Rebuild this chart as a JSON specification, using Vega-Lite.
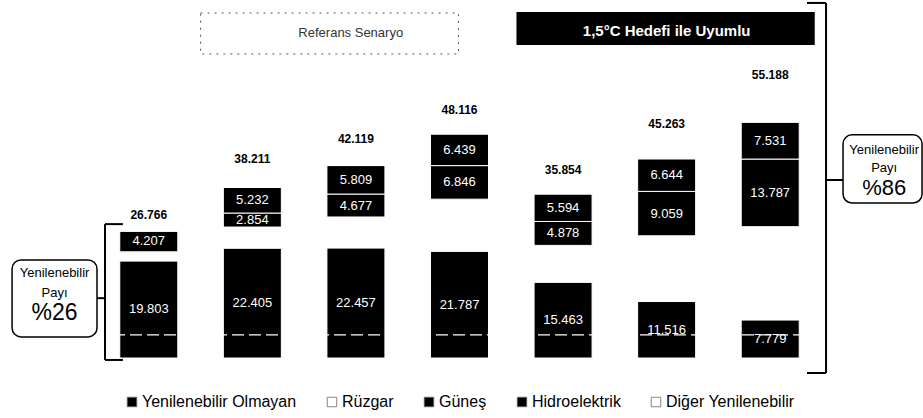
{
  "$schema": "https://vega.github.io/schema/vega-lite/v6.json",
  "width": 725,
  "height": 358,
  "autosize": {"type": "none"},
  "padding": {"left": 97, "right": 101, "top": 0, "bottom": 60},
  "background": "white",
  "config": {"view": {"stroke": null}, "axis": {"grid": false}, "font": "Liberation Sans"},
  "datasets": {
    "ranks": [
      {"src": "Yenilenebilir Olmayan", "rank": 1},
      {"src": "Rüzgar", "rank": 2},
      {"src": "Güneş", "rank": 3},
      {"src": "Hidroelektrik", "rank": 4},
      {"src": "Diğer Yenilenebilir", "rank": 5}
    ],
    "energy": [
      {"bar": "2019", "src": "Yenilenebilir Olmayan", "v": 19.803},
      {"bar": "2019", "src": "Rüzgar", "v": 1.75},
      {"bar": "2019", "src": "Güneş", "v": 0.1},
      {"bar": "2019", "src": "Hidroelektrik", "v": 4.207},
      {"bar": "2019", "src": "Diğer Yenilenebilir", "v": 0.906},
      {"bar": "2030", "src": "Yenilenebilir Olmayan", "v": 22.405},
      {"bar": "2030", "src": "Rüzgar", "v": 4.3},
      {"bar": "2030", "src": "Güneş", "v": 2.854},
      {"bar": "2030", "src": "Hidroelektrik", "v": 5.232},
      {"bar": "2030", "src": "Diğer Yenilenebilir", "v": 3.42},
      {"bar": "2040", "src": "Yenilenebilir Olmayan", "v": 22.457},
      {"bar": "2040", "src": "Rüzgar", "v": 6.3},
      {"bar": "2040", "src": "Güneş", "v": 4.677},
      {"bar": "2040", "src": "Hidroelektrik", "v": 5.809},
      {"bar": "2040", "src": "Diğer Yenilenebilir", "v": 2.876},
      {"bar": "2050", "src": "Yenilenebilir Olmayan", "v": 21.787},
      {"bar": "2050", "src": "Rüzgar", "v": 10.6},
      {"bar": "2050", "src": "Güneş", "v": 6.846},
      {"bar": "2050", "src": "Hidroelektrik", "v": 6.439},
      {"bar": "2050", "src": "Diğer Yenilenebilir", "v": 2.444},
      {"bar": "2030b", "src": "Yenilenebilir Olmayan", "v": 15.463},
      {"bar": "2030b", "src": "Rüzgar", "v": 7.5},
      {"bar": "2030b", "src": "Güneş", "v": 4.878},
      {"bar": "2030b", "src": "Hidroelektrik", "v": 5.594},
      {"bar": "2030b", "src": "Diğer Yenilenebilir", "v": 2.419},
      {"bar": "2040b", "src": "Yenilenebilir Olmayan", "v": 11.516},
      {"bar": "2040b", "src": "Rüzgar", "v": 13.4},
      {"bar": "2040b", "src": "Güneş", "v": 9.059},
      {"bar": "2040b", "src": "Hidroelektrik", "v": 6.644},
      {"bar": "2040b", "src": "Diğer Yenilenebilir", "v": 4.644},
      {"bar": "2050b", "src": "Yenilenebilir Olmayan", "v": 7.779},
      {"bar": "2050b", "src": "Rüzgar", "v": 19.0},
      {"bar": "2050b", "src": "Güneş", "v": 13.787},
      {"bar": "2050b", "src": "Hidroelektrik", "v": 7.531},
      {"bar": "2050b", "src": "Diğer Yenilenebilir", "v": 7.091}
    ]
  },
  "layer": [
    {
      "data": {"name": "energy"},
      "transform": [{"lookup": "src", "from": {"data": {"name": "ranks"}, "key": "src", "fields": ["rank"]}}],
      "mark": {"type": "bar", "width": {"band": 0.56}, "stroke": "white", "strokeWidth": 1},
      "encoding": {
        "x": {
          "field": "bar", "type": "nominal", "sort": null,
          "scale": {"domain": ["2019", "2030", "2040", "2050", "2030b", "2040b", "2050b"], "paddingInner": 0, "paddingOuter": 0},
          "axis": {"title": null, "labelExpr": "slice(datum.label, 0, 4)", "labelAngle": 0, "labelFontWeight": "bold", "labelFontSize": 13, "labelColor": "#000", "labelPadding": 10, "ticks": false, "domainDash": [2, 2], "domainColor": "#777"}
        },
        "y": {"field": "v", "type": "quantitative", "stack": "zero", "scale": {"domain": [0, 73], "nice": false}, "axis": null},
        "order": {"field": "rank", "type": "quantitative", "sort": "ascending"},
        "color": {
          "field": "src", "type": "nominal",
          "sort": ["Yenilenebilir Olmayan", "Rüzgar", "Güneş", "Hidroelektrik", "Diğer Yenilenebilir"],
          "scale": {"domain": ["Yenilenebilir Olmayan", "Rüzgar", "Güneş", "Hidroelektrik", "Diğer Yenilenebilir"], "range": ["#000000", "#ffffff", "#000000", "#000000", "#ffffff"]},
          "legend": {"orient": "none", "legendX": 27, "legendY": 394, "direction": "horizontal", "title": null, "labelFontSize": 16, "labelColor": "#000", "symbolType": "square", "symbolSize": 90, "columnPadding": 27, "labelOffset": 2, "symbolStrokeColor": "#666", "symbolStrokeWidth": 0.8}
        }
      }
    },
    {
      "data": {"values": [{"y": 4.7}]},
      "mark": {"type": "rule", "color": "white", "strokeDash": [12, 5], "strokeWidth": 1.2},
      "encoding": {"y": {"field": "y", "type": "quantitative", "axis": null}}
    },
    {
      "data": {"name": "energy"},
      "transform": [{"lookup": "src", "from": {"data": {"name": "ranks"}, "key": "src", "fields": ["rank"]}}],
      "mark": {"type": "text", "fontSize": 13, "baseline": "middle", "color": "white"},
      "encoding": {
        "x": {"field": "bar", "type": "nominal", "axis": null},
        "y": {"field": "v", "type": "quantitative", "stack": "zero", "bandPosition": 0.5, "axis": null},
        "detail": {"field": "src", "type": "nominal"},
        "order": {"field": "rank", "type": "quantitative", "sort": "ascending"},
        "text": {"condition": {"test": "datum.src === 'Rüzgar' || datum.src === 'Diğer Yenilenebilir' || datum.v < 1", "value": ""}, "field": "v", "type": "quantitative", "format": ".3f"}
      }
    },
    {
      "data": {"name": "energy"},
      "transform": [{"aggregate": [{"op": "sum", "field": "v", "as": "tot"}], "groupby": ["bar"]}],
      "mark": {"type": "text", "baseline": "bottom", "dy": -5, "fontWeight": "bold", "fontSize": 12, "color": "#000"},
      "encoding": {
        "x": {"field": "bar", "type": "nominal", "axis": null},
        "y": {"field": "tot", "type": "quantitative", "axis": null},
        "text": {"field": "tot", "type": "quantitative", "format": ".3f"}
      }
    },
    {
      "data": {"values": [{"a": "2030", "b": "2050", "top": 70.35, "bot": 62.0}]},
      "mark": {"type": "rect", "fill": "white", "stroke": "#555", "strokeDash": [2, 5], "strokeWidth": 1},
      "encoding": {
        "x": {"field": "a", "type": "nominal", "bandPosition": 0, "axis": null},
        "x2": {"field": "b", "bandPosition": 0.49},
        "y": {"field": "top", "type": "quantitative", "axis": null},
        "y2": {"field": "bot"}
      }
    },
    {
      "data": {"values": [{"a": "2030b", "b": "2050b", "top": 70.55, "bot": 63.8}]},
      "mark": {"type": "rect", "fill": "black"},
      "encoding": {
        "x": {"field": "a", "type": "nominal", "bandPosition": 0.05, "axis": null},
        "x2": {"field": "b", "bandPosition": 0.93},
        "y": {"field": "top", "type": "quantitative", "axis": null},
        "y2": {"field": "bot"}
      }
    },
    {
      "data": {"values": [{"bar": "2040", "t": "Referans Senaryo", "y": 66.3}]},
      "mark": {"type": "text", "fontSize": 13, "color": "#333", "baseline": "middle"},
      "encoding": {
        "x": {"field": "bar", "type": "nominal", "bandPosition": 0.45, "axis": null},
        "y": {"field": "y", "type": "quantitative", "axis": null},
        "text": {"field": "t"}
      }
    },
    {
      "data": {"values": [{"bar": "2040b", "t": "1,5°C Hedefi ile Uyumlu", "y": 66.6}]},
      "mark": {"type": "text", "fontSize": 15, "fontWeight": "bold", "color": "white", "baseline": "middle"},
      "encoding": {
        "x": {"field": "bar", "type": "nominal", "bandPosition": 0.5, "axis": null},
        "y": {"field": "y", "type": "quantitative", "axis": null},
        "text": {"field": "t"}
      }
    },
    {
      "data": {"values": [{"a": "2019", "top": 20.0, "bot": 4.3}]},
      "mark": {"type": "rect", "fill": "white", "stroke": "black", "strokeWidth": 1.5, "cornerRadius": 9},
      "encoding": {
        "x": {"field": "a", "type": "nominal", "bandPosition": -0.82, "axis": null},
        "x2": {"field": "a", "bandPosition": 0},
        "y": {"field": "top", "type": "quantitative", "axis": null},
        "y2": {"field": "bot"}
      }
    },
    {
      "data": {"values": [{"bar": "2019", "t": "Yenilenebilir", "y": 17.3}, {"bar": "2019", "t": "Payı", "y": 13.3}]},
      "mark": {"type": "text", "fontSize": 13, "color": "#000", "baseline": "middle"},
      "encoding": {
        "x": {"field": "bar", "type": "nominal", "bandPosition": -0.41, "axis": null},
        "y": {"field": "y", "type": "quantitative", "axis": null},
        "text": {"field": "t"}
      }
    },
    {
      "data": {"values": [{"bar": "2019", "t": "%26", "y": 9.1}]},
      "mark": {"type": "text", "fontSize": 23, "color": "#000", "baseline": "middle"},
      "encoding": {
        "x": {"field": "bar", "type": "nominal", "bandPosition": -0.41, "axis": null},
        "y": {"field": "y", "type": "quantitative", "axis": null},
        "text": {"field": "t"}
      }
    },
    {
      "data": {"values": [{"a": "2050b", "top": 45.5, "bot": 31.6}]},
      "mark": {"type": "rect", "fill": "white", "stroke": "black", "strokeWidth": 1.5, "cornerRadius": 9},
      "encoding": {
        "x": {"field": "a", "type": "nominal", "bandPosition": 1.203, "axis": null},
        "x2": {"field": "a", "bandPosition": 1.966},
        "y": {"field": "top", "type": "quantitative", "axis": null},
        "y2": {"field": "bot"}
      }
    },
    {
      "data": {"values": [{"bar": "2050b", "t": "Yenilenebilir", "y": 42.4}, {"bar": "2050b", "t": "Payı", "y": 38.7}]},
      "mark": {"type": "text", "fontSize": 13, "color": "#000", "baseline": "middle"},
      "encoding": {
        "x": {"field": "bar", "type": "nominal", "bandPosition": 1.6, "axis": null},
        "y": {"field": "y", "type": "quantitative", "axis": null},
        "text": {"field": "t"}
      }
    },
    {
      "data": {"values": [{"bar": "2050b", "t": "%86", "y": 34.6}]},
      "mark": {"type": "text", "fontSize": 22, "color": "#000", "baseline": "middle"},
      "encoding": {
        "x": {"field": "bar", "type": "nominal", "bandPosition": 1.6, "axis": null},
        "y": {"field": "y", "type": "quantitative", "axis": null},
        "text": {"field": "t"}
      }
    },
    {
      "data": {"values": [{"a": "2019", "top": 27.3, "bot": -0.4}]},
      "mark": {"type": "rule", "color": "black", "strokeWidth": 2},
      "encoding": {
        "x": {"field": "a", "type": "nominal", "bandPosition": 0.077, "axis": null},
        "y": {"field": "top", "type": "quantitative", "axis": null},
        "y2": {"field": "bot"}
      }
    },
    {
      "data": {"values": [{"a": "2019", "y": 27.3}, {"a": "2019", "y": -0.4}]},
      "mark": {"type": "rule", "color": "black", "strokeWidth": 2},
      "encoding": {
        "x": {"field": "a", "type": "nominal", "bandPosition": 0.077, "axis": null},
        "x2": {"field": "a", "bandPosition": 0.25},
        "y": {"field": "y", "type": "quantitative", "axis": null}
      }
    },
    {
      "data": {"values": [{"a": "2019", "y": 12.2}]},
      "mark": {"type": "rule", "color": "black", "strokeWidth": 2},
      "encoding": {
        "x": {"field": "a", "type": "nominal", "bandPosition": 0, "axis": null},
        "x2": {"field": "a", "bandPosition": 0.077},
        "y": {"field": "y", "type": "quantitative", "axis": null}
      }
    },
    {
      "data": {"values": [{"a": "2050b", "top": 72.4, "bot": -3.06}]},
      "mark": {"type": "rule", "color": "black", "strokeWidth": 2},
      "encoding": {
        "x": {"field": "a", "type": "nominal", "bandPosition": 1.039, "axis": null},
        "y": {"field": "top", "type": "quantitative", "axis": null},
        "y2": {"field": "bot"}
      }
    },
    {
      "data": {"values": [{"a": "2050b", "y": 72.4}, {"a": "2050b", "y": -3.06}]},
      "mark": {"type": "rule", "color": "black", "strokeWidth": 2},
      "encoding": {
        "x": {"field": "a", "type": "nominal", "bandPosition": 0.855, "axis": null},
        "x2": {"field": "a", "bandPosition": 1.039},
        "y": {"field": "y", "type": "quantitative", "axis": null}
      }
    },
    {
      "data": {"values": [{"a": "2050b", "y": 36.3}]},
      "mark": {"type": "rule", "color": "black", "strokeWidth": 2},
      "encoding": {
        "x": {"field": "a", "type": "nominal", "bandPosition": 1.039, "axis": null},
        "x2": {"field": "a", "bandPosition": 1.203},
        "y": {"field": "y", "type": "quantitative", "axis": null}
      }
    }
  ]
}
